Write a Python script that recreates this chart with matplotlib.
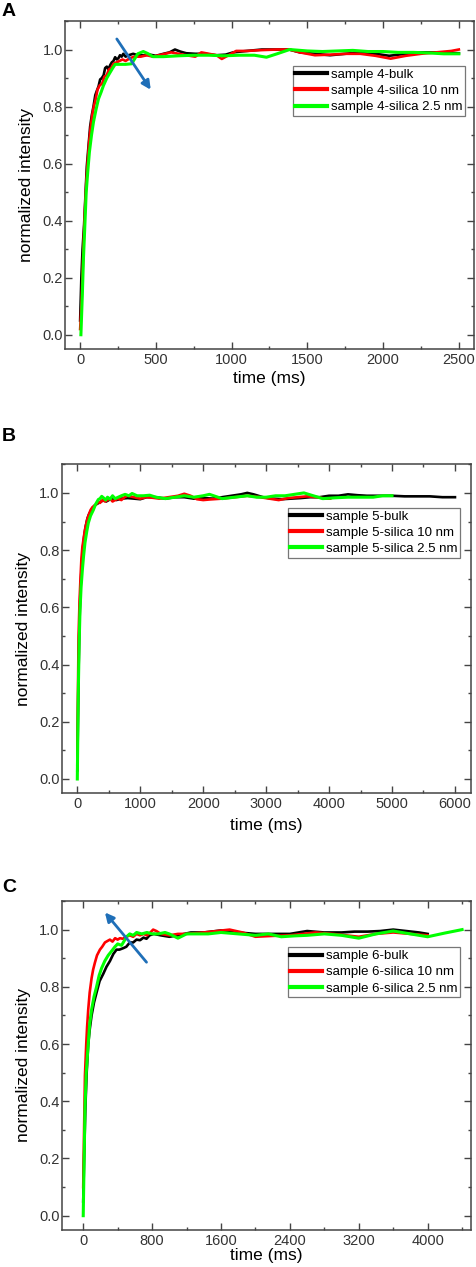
import matplotlib
matplotlib.use("Agg")
import matplotlib.pyplot as plt
from matplotlib.ticker import MultipleLocator

plt.rcParams["font.family"] = ["Liberation Sans", "DejaVu Sans"]

# ---- panel A (sample 4) ----
A_black_t = [0, 8, 16, 26, 36, 44, 55, 66, 77, 88, 100, 110, 121, 132, 143, 155, 165, 176, 187, 198,
             209, 220, 231, 242, 253, 263, 274, 285, 300, 320, 350, 380, 420, 460, 500, 550, 590, 626, 660, 700,
             760, 820, 900, 960, 1010, 1100, 1200, 1300, 1380, 1450, 1550, 1650, 1750, 1850, 1950, 2040, 2150,
             2250, 2350, 2420, 2500]
A_black_y = [0.05, 0.2, 0.3, 0.385, 0.5, 0.59, 0.66, 0.73, 0.77, 0.80, 0.84, 0.855, 0.87, 0.895, 0.90, 0.91,
             0.935, 0.94, 0.93, 0.945, 0.955, 0.96, 0.973, 0.965, 0.97, 0.98, 0.975, 0.985, 0.975, 0.98,
             0.985, 0.98, 0.98, 0.982, 0.978, 0.985, 0.99, 1.0, 0.993, 0.987, 0.985, 0.985, 0.98, 0.982, 0.99,
             0.995, 1.0, 1.0, 1.0, 0.99, 0.985, 0.98, 0.985, 0.99, 0.985, 0.978, 0.985, 0.99, 0.99, 0.988, 0.987]
A_red_t = [0, 10, 20, 30, 40, 50, 60, 70, 80, 90, 100, 115, 130, 145, 160, 175, 190, 205, 220, 240,
           260, 280, 300, 330, 360, 400, 440, 480, 520, 560, 600, 650, 700, 760, 800, 850, 900, 935, 980, 1030,
           1100, 1200, 1300, 1380, 1450, 1550, 1650, 1750, 1850, 1950, 2050, 2150, 2250, 2350, 2450, 2500]
A_red_y = [0.02, 0.12, 0.28, 0.42, 0.53, 0.61, 0.68, 0.73, 0.77, 0.80, 0.82, 0.86, 0.875, 0.88, 0.905, 0.91,
           0.93, 0.935, 0.95, 0.955, 0.96, 0.965, 0.96, 0.97, 0.975, 0.975, 0.98, 0.975, 0.98, 0.985,
           0.99, 0.985, 0.98, 0.975, 0.99, 0.985, 0.98, 0.967, 0.98, 0.995, 0.995, 0.998, 1.0, 1.0, 0.99,
           0.98, 0.982, 0.985, 0.985, 0.978, 0.968, 0.978, 0.985, 0.99, 0.995, 1.0]
A_green_t = [5, 15, 22, 30, 40, 50, 61, 75, 88, 105, 121, 138, 154, 176, 198, 215, 231, 260, 300, 340,
             380, 417, 450, 480, 550, 650, 750, 850, 950, 1050, 1150, 1230, 1300, 1383, 1500, 1600, 1700, 1800,
             1900, 2000, 2100, 2200, 2300, 2400, 2500]
A_green_y = [0.0, 0.15, 0.27, 0.37, 0.5, 0.57, 0.64, 0.70, 0.746, 0.79, 0.827, 0.85, 0.874, 0.90, 0.92, 0.935,
             0.948, 0.948, 0.948, 0.95, 0.985, 0.993, 0.985, 0.975, 0.975, 0.978, 0.98, 0.98, 0.978, 0.98,
             0.98, 0.973, 0.985, 1.0, 0.995, 0.993, 0.995, 0.997, 0.993, 0.993, 0.99, 0.99, 0.988, 0.985, 0.985]

# ---- panel B (sample 5) ----
B_black_t = [0, 10, 20, 35, 50, 70, 90, 110, 135, 160, 185, 210, 240, 270, 300, 340, 380, 420, 460, 500,
             560, 620, 700, 800, 900, 1000, 1100, 1250, 1400, 1550, 1700, 1850, 2000, 2150, 2300, 2450, 2600,
             2700, 2800, 2950, 3100, 3250, 3400, 3550, 3700, 3850, 4000, 4150, 4300, 4450, 4600, 4800, 5000,
             5200, 5400, 5600, 5800, 6000]
B_black_y = [0.03, 0.2, 0.38, 0.55, 0.66, 0.75, 0.81, 0.85, 0.885, 0.91, 0.925, 0.935, 0.945, 0.955, 0.96,
             0.965, 0.97, 0.975, 0.97, 0.975, 0.98, 0.975, 0.98, 0.982, 0.98, 0.978, 0.985, 0.985, 0.98, 0.985,
             0.985, 0.98, 0.982, 0.98, 0.985, 0.99, 0.995, 1.0, 0.995, 0.985, 0.98, 0.978, 0.98, 0.982, 0.985,
             0.985, 0.99, 0.99, 0.995, 0.992, 0.99, 0.99, 0.99, 0.988, 0.988, 0.988, 0.985, 0.985]
B_red_t = [0, 10, 20, 35, 50, 65, 80, 100, 120, 140, 160, 185, 210, 240, 270, 300, 330, 360, 400, 440,
           480, 520, 560, 600, 650, 700, 750, 800, 900, 1000, 1100, 1200, 1300, 1450, 1600, 1700, 1800, 1900,
           2000, 2100, 2300, 2500, 2700, 2900, 3050, 3200, 3350, 3500, 3650, 3800, 3950, 4018]
B_red_y = [0.05, 0.3, 0.5, 0.62, 0.7, 0.77, 0.81, 0.84, 0.87, 0.89, 0.91, 0.925, 0.94, 0.95, 0.955, 0.96,
           0.97, 0.965, 0.975, 0.97, 0.975, 0.98, 0.97, 0.975, 0.98, 0.975, 0.985, 0.99, 0.985, 0.98,
           0.985, 0.983, 0.98, 0.985, 0.99, 0.997, 0.99, 0.978, 0.975, 0.977, 0.98, 0.985, 0.99, 0.985, 0.98,
           0.975, 0.982, 0.985, 0.988, 0.985, 0.98, 0.98]
B_green_t = [0, 15, 30, 43, 60, 80, 100, 122, 150, 175, 210, 254, 290, 334, 360, 388, 420, 450, 480, 520,
             560, 600, 650, 700, 760, 820, 870, 950, 1050, 1150, 1250, 1400, 1550, 1700, 1850, 2000, 2100,
             2300, 2500, 2700, 2850, 3000, 3150, 3300, 3450, 3600, 3750, 3900, 4100, 4300, 4500, 4700, 4850, 5000]
B_green_y = [0.0, 0.3, 0.48, 0.59, 0.67, 0.73, 0.78, 0.826, 0.865, 0.895, 0.92, 0.94, 0.96, 0.977, 0.98,
             0.988, 0.982, 0.975, 0.985, 0.978, 0.99, 0.98, 0.985, 0.99, 0.995, 0.99, 0.998, 0.99, 0.99, 0.992,
             0.985, 0.98, 0.985, 0.99, 0.985, 0.99, 0.995, 0.98, 0.985, 0.99, 0.985, 0.985, 0.99, 0.99, 0.995,
             1.0, 0.99, 0.98, 0.983, 0.985, 0.985, 0.985, 0.99, 0.99]

# ---- panel C (sample 6) ----
C_black_t = [0, 10, 25, 40, 58, 75, 97, 125, 155, 190, 232, 270, 310, 350, 387, 420, 464, 500, 541, 580,
             619, 660, 700, 735, 770, 820, 900, 1000, 1100, 1250, 1400, 1600, 1800, 2000, 2200, 2400, 2600,
             2800, 3000, 3150, 3300, 3450, 3600, 3750, 3900, 4000]
C_black_y = [0.05, 0.2, 0.38, 0.5, 0.6, 0.65, 0.70, 0.745, 0.78, 0.82, 0.845, 0.87, 0.89, 0.915, 0.93, 0.93,
             0.935, 0.94, 0.955, 0.955, 0.965, 0.963, 0.972, 0.968, 0.98, 0.985, 0.98, 0.975, 0.98, 0.99, 0.99,
             0.997, 0.99, 0.985, 0.985, 0.985, 0.995, 0.99, 0.99, 0.993, 0.993, 0.995, 1.0, 0.995, 0.99, 0.985]
C_red_t = [0, 10, 20, 35, 45, 58, 75, 97, 115, 136, 160, 194, 220, 252, 280, 310, 340, 370, 400, 426,
           460, 500, 541, 580, 620, 660, 700, 740, 780, 812, 850, 900, 1000, 1100, 1200, 1400, 1550, 1700,
           1850, 2000, 2200, 2400, 2550, 2700, 2900, 3050, 3200, 3400, 3600, 3800, 4000]
C_red_y = [0.1, 0.3, 0.49, 0.6, 0.66, 0.72, 0.78, 0.83, 0.86, 0.885, 0.91, 0.93, 0.94, 0.955, 0.96, 0.965,
           0.958, 0.97, 0.965, 0.97, 0.968, 0.975, 0.98, 0.975, 0.985, 0.98, 0.985, 0.98, 0.99, 1.0, 0.995,
           0.985, 0.98, 0.985, 0.985, 0.99, 0.995, 1.0, 0.99, 0.975, 0.978, 0.98, 0.985, 0.99, 0.985, 0.98,
           0.975, 0.985, 0.99, 0.985, 0.98]
C_green_t = [0, 8, 20, 35, 58, 75, 97, 125, 155, 185, 213, 250, 290, 330, 368, 400, 445, 475, 503, 540,
             580, 620, 680, 740, 800, 870, 950, 1000, 1100, 1200, 1300, 1450, 1600, 1800, 2000, 2150, 2300,
             2450, 2600, 2800, 3000, 3200, 3400, 3600, 3800, 4000, 4200, 4400]
C_green_y = [0.0, 0.15, 0.37, 0.5, 0.6, 0.67, 0.72, 0.765, 0.80, 0.84, 0.865, 0.89, 0.91, 0.925, 0.94,
             0.95, 0.945, 0.96, 0.975, 0.985, 0.98, 0.99, 0.985, 0.99, 0.985, 0.985, 0.99, 0.985, 0.97, 0.985,
             0.985, 0.985, 0.99, 0.985, 0.98, 0.985, 0.975, 0.978, 0.98, 0.985, 0.98, 0.97, 0.985, 0.995,
             0.985, 0.975, 0.988, 1.0]

PANELS = [
    {"letter": "A", "num": 4, "series": [(A_black_t, A_black_y), (A_red_t, A_red_y), (A_green_t, A_green_y)],
     "rect": [65, 21, 474, 349], "xlim": (-100, 2600), "major": 500, "minor": 250,
     "leg": (0.978, 0.863), "letter_y": 12, "xlabelpad": 3,
     "arrow": ((242, 1.037), (466, 0.859))},
    {"letter": "B", "num": 5, "series": [(B_black_t, B_black_y), (B_red_t, B_red_y), (B_green_t, B_green_y)],
     "rect": [61.7, 464.3, 470.7, 793.3], "xlim": (-248, 6250), "major": 1000, "minor": 500,
     "leg": (0.974, 0.868), "letter_y": 436, "xlabelpad": 5, "arrow": None},
    {"letter": "C", "num": 6, "series": [(C_black_t, C_black_y), (C_red_t, C_red_y), (C_green_t, C_green_y)],
     "rect": [61.7, 901, 470.7, 1230], "xlim": (-250, 4500), "major": 800, "minor": 400,
     "leg": (0.974, 0.859), "letter_y": 887, "xlabelpad": 0,
     "arrow": ((735, 0.886), (252, 1.06))},
]

COLORS = ["black", "#ff0000", "#00ff00"]
W, H = 477, 1267

fig = plt.figure(figsize=(W / 100, H / 100), dpi=100)

for p in PANELS:
    l, t, r, b = p["rect"]
    ax = fig.add_axes([l / W, 1 - b / H, (r - l) / W, (b - t) / H])
    labels = [f"sample {p['num']}-bulk", f"sample {p['num']}-silica 10 nm",
              f"sample {p['num']}-silica 2.5 nm"]
    for (x, y), c, lab in zip(p["series"], COLORS, labels):
        ax.plot(x, y, color=c, lw=1.9 if c != "#00ff00" else 2.2, label=lab)

    ax.set_xlim(*p["xlim"])
    ax.set_ylim(-0.05, 1.1)
    ax.xaxis.set_major_locator(MultipleLocator(p["major"]))
    ax.xaxis.set_minor_locator(MultipleLocator(p["minor"]))
    ax.yaxis.set_major_locator(MultipleLocator(0.2))
    ax.yaxis.set_minor_locator(MultipleLocator(0.1))
    ax.yaxis.set_major_formatter(plt.FormatStrFormatter("%.1f"))
    ax.tick_params(which="both", direction="in", top=True, right=True, color="#444444",
                   labelsize=10.5, labelcolor="#333333", width=1)
    ax.tick_params(which="major", length=5)
    ax.tick_params(which="minor", length=2.5)
    ax.tick_params(axis="y", pad=1.5)
    ax.tick_params(axis="x", pad=3)
    for s in ax.spines.values():
        s.set_color("#444444")
        s.set_linewidth(1.1)

    ax.set_xlabel("time (ms)", fontsize=12.5, labelpad=p["xlabelpad"])
    ax.set_ylabel("normalized intensity", fontsize=12.5, labelpad=6)

    leg = ax.legend(loc="upper right", bbox_to_anchor=p["leg"], borderaxespad=0, fontsize=9.5,
                    fancybox=False, edgecolor="#777777", handlelength=2.4, handletextpad=0.3,
                    borderpad=0.2, labelspacing=0.3, framealpha=1)
    leg.get_frame().set_linewidth(0.9)
    for ln in leg.get_lines():
        ln.set_linewidth(3)

    if p["arrow"]:
        (x0, y0), (x1, y1) = p["arrow"]
        ax.annotate("", xy=(x1, y1), xytext=(x0, y0),
                    arrowprops=dict(arrowstyle="-|>", color="#1f6fb8", lw=2,
                                    mutation_scale=13, shrinkA=0, shrinkB=0))

    fig.text(2 / W, 1 - p["letter_y"] / H, p["letter"], fontsize=14, fontweight="bold",
             ha="left", va="center")

fig.savefig("out.png", dpi=100)
